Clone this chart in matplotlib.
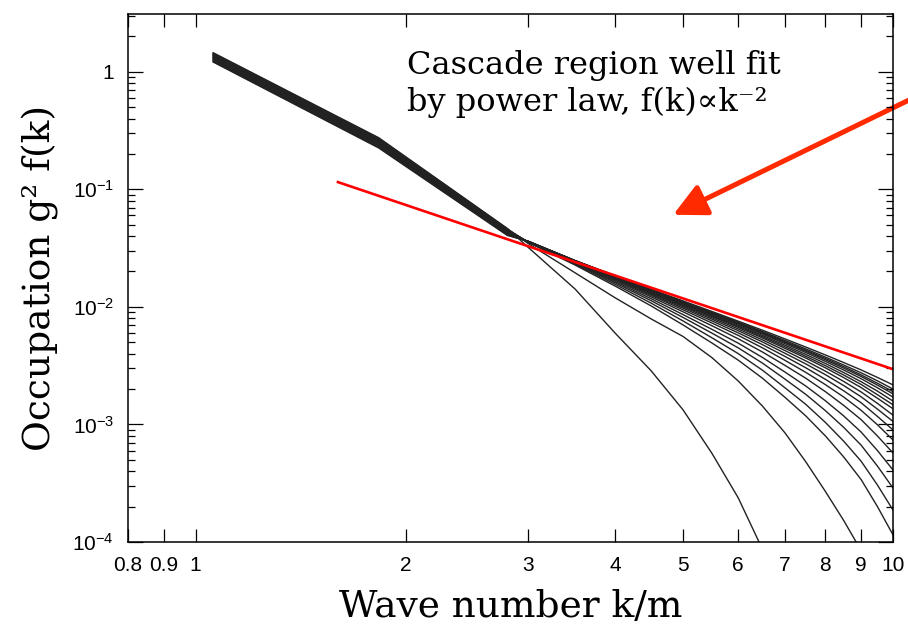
import matplotlib
matplotlib.use("Agg")
import matplotlib.pyplot as plt
from matplotlib.ticker import FixedLocator, FixedFormatter, LogLocator, NullFormatter, NullLocator
from matplotlib.patches import FancyArrowPatch

# wave numbers k/m where the spectra are sampled
k = [1.06, 1.83, 2.8, 3.0, 3.5, 4.0, 4.5, 5.0, 5.5, 6.0, 6.5, 7.0, 7.5, 8.0, 8.5, 9.0, 9.5, 10.0]

# occupation g^2 f(k), one list per time snapshot (latest first)
f01 = [1.21, 0.225, 0.0405, 0.0362, 0.0248, 0.0184, 0.0141, 0.01123, 0.00914, 0.00756, 0.00633, 0.00534, 0.00455, 0.00390, 0.00336, 0.00291, 0.00251, 0.00217]
f02 = [1.22, 0.228, 0.0408, 0.0361, 0.0248, 0.0183, 0.0140, 0.01109, 0.00899, 0.00741, 0.00617, 0.00518, 0.00439, 0.00374, 0.00320, 0.00275, 0.00235, 0.00200]
f03 = [1.24, 0.231, 0.0412, 0.0361, 0.0247, 0.0182, 0.01388, 0.01100, 0.00889, 0.00731, 0.00607, 0.00507, 0.00428, 0.00364, 0.00310, 0.00264, 0.00224, 0.00190]
f04 = [1.25, 0.233, 0.0415, 0.0360, 0.0247, 0.0182, 0.01382, 0.01092, 0.00881, 0.00723, 0.00598, 0.00498, 0.00420, 0.00355, 0.00301, 0.00256, 0.00216, 0.00182]
f05 = [1.26, 0.236, 0.0418, 0.0360, 0.0246, 0.0181, 0.01373, 0.01082, 0.00870, 0.00712, 0.00587, 0.00487, 0.00409, 0.00344, 0.00290, 0.00245, 0.00205, 0.00171]
f06 = [1.28, 0.239, 0.0422, 0.0359, 0.0246, 0.0180, 0.01361, 0.01068, 0.00856, 0.00697, 0.00572, 0.00472, 0.00394, 0.00330, 0.00276, 0.00231, 0.00192, 0.00158]
f07 = [1.29, 0.242, 0.0425, 0.0359, 0.0245, 0.0179, 0.01349, 0.01055, 0.00842, 0.00683, 0.00558, 0.00458, 0.00380, 0.00316, 0.00263, 0.00219, 0.00179, 0.00147]
f08 = [1.30, 0.245, 0.0428, 0.0358, 0.0245, 0.0178, 0.01338, 0.01042, 0.00828, 0.00669, 0.00544, 0.00444, 0.00367, 0.00303, 0.00250, 0.00206, 0.00167, 0.00136]
f09 = [1.32, 0.247, 0.0432, 0.0358, 0.0244, 0.01766, 0.01320, 0.01022, 0.00808, 0.00649, 0.00524, 0.00425, 0.00347, 0.00284, 0.00232, 0.00189, 0.00151, 0.00120]
f10 = [1.33, 0.250, 0.0435, 0.0357, 0.0243, 0.01750, 0.01302, 0.01001, 0.00786, 0.00627, 0.00503, 0.00403, 0.00327, 0.00265, 0.00214, 0.00172, 0.00135, 0.00106]
f11 = [1.34, 0.253, 0.0438, 0.0357, 0.0242, 0.01730, 0.01278, 0.00976, 0.00760, 0.00601, 0.00477, 0.00379, 0.00303, 0.00242, 0.00193, 0.00153, 0.00117, 0.000898]
f12 = [1.36, 0.256, 0.0441, 0.0356, 0.0240, 0.01707, 0.01251, 0.00945, 0.00729, 0.00572, 0.00448, 0.00351, 0.00277, 0.00218, 0.00171, 0.00132, 0.000993, 0.000738]
f13 = [1.37, 0.259, 0.0445, 0.0356, 0.0238, 0.01676, 0.01216, 0.00908, 0.00691, 0.00535, 0.00413, 0.00318, 0.00247, 0.00190, 0.00145, 0.00110, 0.000797, 0.000572]
f14 = [1.38, 0.261, 0.0448, 0.0355, 0.0236, 0.01637, 0.01173, 0.00860, 0.00644, 0.00491, 0.00371, 0.00279, 0.00212, 0.00159, 0.00118, 0.000862, 0.000599, 0.000410]
f15 = [1.40, 0.264, 0.0451, 0.0355, 0.0234, 0.01598, 0.01128, 0.00813, 0.00598, 0.00448, 0.00332, 0.00243, 0.00180, 0.00131, 0.000943, 0.000667, 0.000442, 0.000288]
f16 = [1.41, 0.267, 0.0455, 0.0354, 0.0231, 0.01550, 0.01076, 0.00759, 0.00546, 0.00400, 0.00289, 0.00205, 0.00148, 0.00104, 0.000719, 0.000487, 0.000305, 0.000187]
f17 = [1.42, 0.270, 0.0458, 0.0354, 0.0227, 0.01498, 0.01019, 0.00702, 0.00493, 0.00352, 0.00247, 0.00170, 0.00118, 0.000798, 0.000528, 0.000340, 0.000200, 0.000115]
f18 = [1.44, 0.272, 0.0461, 0.0345, 0.0195, 0.01190, 0.00790, 0.00560, 0.00370, 0.00234, 0.00143, 0.000848, 0.000480, 0.000269, 0.000152, 0.0000846, 0.0000484, 0.0000268]
f19 = [1.45, 0.275, 0.0464, 0.0320, 0.0142, 0.00594, 0.00286, 0.00133, 0.000568, 0.000237, 0.0000865, 0.000032, 0.000011, 0.000004, 0.0000015, 0.0000005, 0.0000002, 0.00000007]
curves = [f01, f02, f03, f04, f05, f06, f07, f08, f09, f10, f11, f12, f13, f14, f15, f16, f17, f18, f19]

# power law fit f(k) ~ k^-2
k_fit = [1.6, 10.0]
f_fit = [0.1152, 0.00295]

# arrow: tail (off the right edge) and tip, in data units
arrow_tail = (11.0, 0.65)
arrow_tip = (4.84, 0.0607)

xticks = [0.8, 0.9, 1, 2, 3, 4, 5, 6, 7, 8, 9, 10]
xtick_labels = ["0.8", "0.9", "1", "2", "3", "4", "5", "6", "7", "8", "9", "10"]
yticks = [1e-4, 1e-3, 1e-2, 1e-1, 1]
ytick_labels = [r"$\mathdefault{10^{-4}}$", r"$\mathdefault{10^{-3}}$", r"$\mathdefault{10^{-2}}$",
                r"$\mathdefault{10^{-1}}$", "1"]

plt.rcParams['font.family'] = ['Liberation Sans', 'DejaVu Sans']
plt.rcParams['mathtext.fontset'] = 'custom'
plt.rcParams['mathtext.rm'] = 'Liberation Sans'

fig = plt.figure(figsize=(9.08, 6.3), dpi=100)
ax = fig.add_axes([128 / 908, 88 / 630, 765 / 908, 528 / 630])

for c in curves:
    ax.plot(k, c, color='#222222', lw=1.0)

ax.plot(k_fit, f_fit, color='#ff0000', lw=1.9)

ax.set_xscale('log')
ax.set_yscale('log')
ax.set_xlim(0.8, 10)
ax.set_ylim(1e-4, 3.1)

ax.xaxis.set_major_locator(FixedLocator(xticks))
ax.xaxis.set_major_formatter(FixedFormatter(xtick_labels))
ax.xaxis.set_minor_locator(NullLocator())
ax.yaxis.set_major_locator(FixedLocator(yticks))
ax.yaxis.set_major_formatter(FixedFormatter(ytick_labels))
ax.yaxis.set_minor_locator(LogLocator(base=10, subs=[2, 3, 4, 5, 6, 7, 8, 9], numticks=20))
ax.yaxis.set_minor_formatter(NullFormatter())

ax.tick_params(which='both', direction='in', top=True, right=True, width=0.9, labelsize=15)
ax.tick_params(axis='x', which='major', length=9.5, pad=10)
ax.tick_params(axis='y', which='major', length=10.5, pad=10)
ax.tick_params(axis='y', which='minor', length=5)
for s in ax.spines.values():
    s.set_linewidth(1.1)

ax.set_xlabel("Wave number k/m", family='DejaVu Serif', fontsize=27, labelpad=10)
ax.set_ylabel("Occupation g² f(k)", family='DejaVu Serif', fontsize=27, labelpad=10)

fig.text(407 / 908, 1 - 84 / 630, "Cascade region well fit\nby power law, f(k)∝k⁻²",
         family='DejaVu Serif', fontsize=23, va='center', ha='left', linespacing=1.2)

arr = FancyArrowPatch(arrow_tail, arrow_tip, transform=ax.transData, clip_on=False,
                      arrowstyle='-|>,head_length=1.0,head_width=0.5', mutation_scale=20,
                      color='#ff2a00', lw=3.6, shrinkA=0, shrinkB=0)
ax.add_patch(arr)

fig.savefig('out.png', dpi=100)
